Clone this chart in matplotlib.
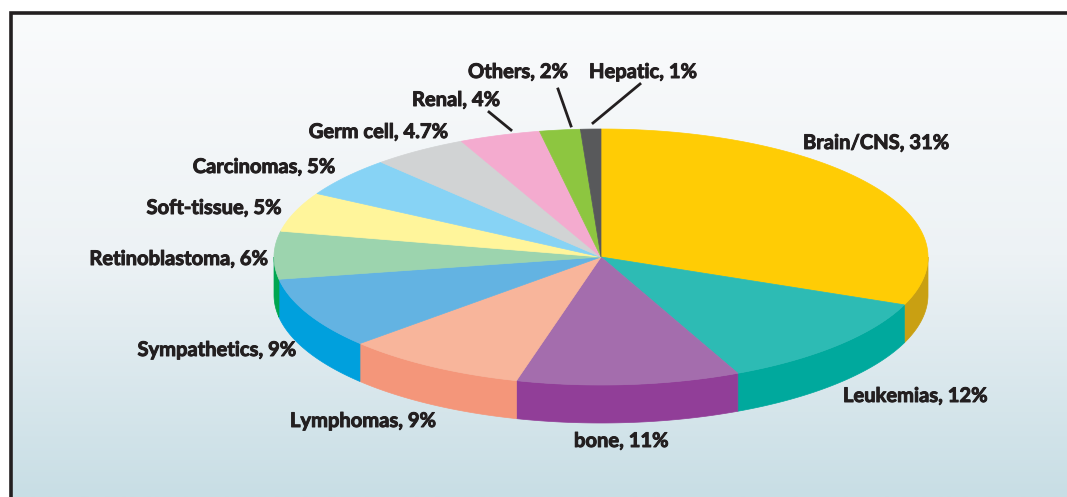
import numpy as np
import matplotlib.pyplot as plt
import matplotlib.patheffects as pe
from matplotlib.patches import Polygon
from matplotlib.colors import LinearSegmentedColormap

# data
categories = ['Brain/CNS', 'Leukemias', 'bone', 'Lymphomas', 'Sympathetics',
              'Retinoblastoma', 'Soft-tissue', 'Carcinomas', 'Germ cell',
              'Renal', 'Others', 'Hepatic']
percent = [31, 12, 11, 9, 9, 6, 5, 5, 4.7, 4, 2, 1]
pct_text = ['31%', '12%', '11%', '9%', '9%', '6%', '5%', '5%', '4.7%', '4%', '2%', '1%']

top_colors = ['#FFCC05', '#2DBBB4', '#A46DAD', '#F8B59B', '#63B3E2', '#9CD4AE',
              '#FFF59B', '#87D3F5', '#D1D3D4', '#F4ABCF', '#8DC640', '#58595B']
side_colors = ['#C9A012', '#00A99D', '#913E98', '#F4967A', '#00A0DD', '#00A651',
               '#E6D76E', '#4FBDE9', '#A7A9AC', '#E07FAF', '#5FA830', '#3A3A3C']

# layout (pixels)
W, H = 1067, 497
cx, cy, rx, ry, depth = 601, 257, 327, 128, 38
label_pos = [(803, 143, 'left'), (843, 396, 'left'), (574, 441, 'left'),
             (290, 421, 'left'), (296, 350, 'right'), (268, 259, 'right'),
             (281, 208, 'right'), (335, 167, 'right'), (448, 132, 'right'),
             (500, 100, 'right'), (468, 72, 'left'), (589, 72, 'left')]
leaders = {'Renal': [(489, 112), (511, 130)],
           'Others': [(558, 89), (571, 126)],
           'Hepatic': [(640, 84), (593, 123)]}

fig = plt.figure(figsize=(W / 100, H / 100), dpi=100)
ax = fig.add_axes([0, 0, 1, 1])
ax.set_xlim(0, W)
ax.set_ylim(H, 0)
ax.axis('off')

# background gradient inside the frame
cmap = LinearSegmentedColormap.from_list('bg', ['#FAFBFC', '#EDF2F5', '#C8DEE5'])
grad = np.linspace(0, 1, 256).reshape(-1, 1)
ax.imshow(grad, cmap=cmap, extent=[11, W, H, 13], aspect='auto', zorder=0)
ax.plot([11, 11, W], [H, 13, 13], color='#231F20', lw=2.6, zorder=1,
        solid_joinstyle='miter')

# slice angles, clockwise from 12 o'clock (y axis points down)
vals = np.array(percent, dtype=float)
edges = -90 + 360 * np.concatenate([[0], np.cumsum(vals)]) / vals.sum()


def arc(t0, t1, dy=0):
    t = np.radians(np.linspace(t0, t1, max(int(abs(t1 - t0) * 2), 2)))
    return np.column_stack([cx + rx * np.cos(t), cy + ry * np.sin(t) + dy])


# side walls (front half only)
for i in range(len(vals)):
    a, b = max(edges[i], 0), min(edges[i + 1], 180)
    if b <= a:
        continue
    pts = np.vstack([arc(a, b), arc(b, a, depth)])
    ax.add_patch(Polygon(pts, closed=True, fc=side_colors[i], ec=side_colors[i],
                         lw=0.5, zorder=2))

# top face
for i in range(len(vals)):
    pts = np.vstack([[cx, cy], arc(edges[i], edges[i + 1])])
    ax.add_patch(Polygon(pts, closed=True, fc=top_colors[i], ec=top_colors[i],
                         lw=0.5, zorder=3))

# labels
thick = [pe.withStroke(linewidth=0.7, foreground='#231F20')]
for name, p, (x, y, ha) in zip(categories, pct_text, label_pos):
    ax.text(x, y, name + ', ' + p, ha=ha, va='center', fontsize=14.5,
            fontweight='bold', family='Lato', color='#231F20', zorder=5,
            path_effects=thick)

for name, pts in leaders.items():
    (x0, y0), (x1, y1) = pts
    ax.plot([x0, x1], [y0, y1], color='#231F20', lw=2, zorder=4)

fig.savefig('out.png', dpi=100)
